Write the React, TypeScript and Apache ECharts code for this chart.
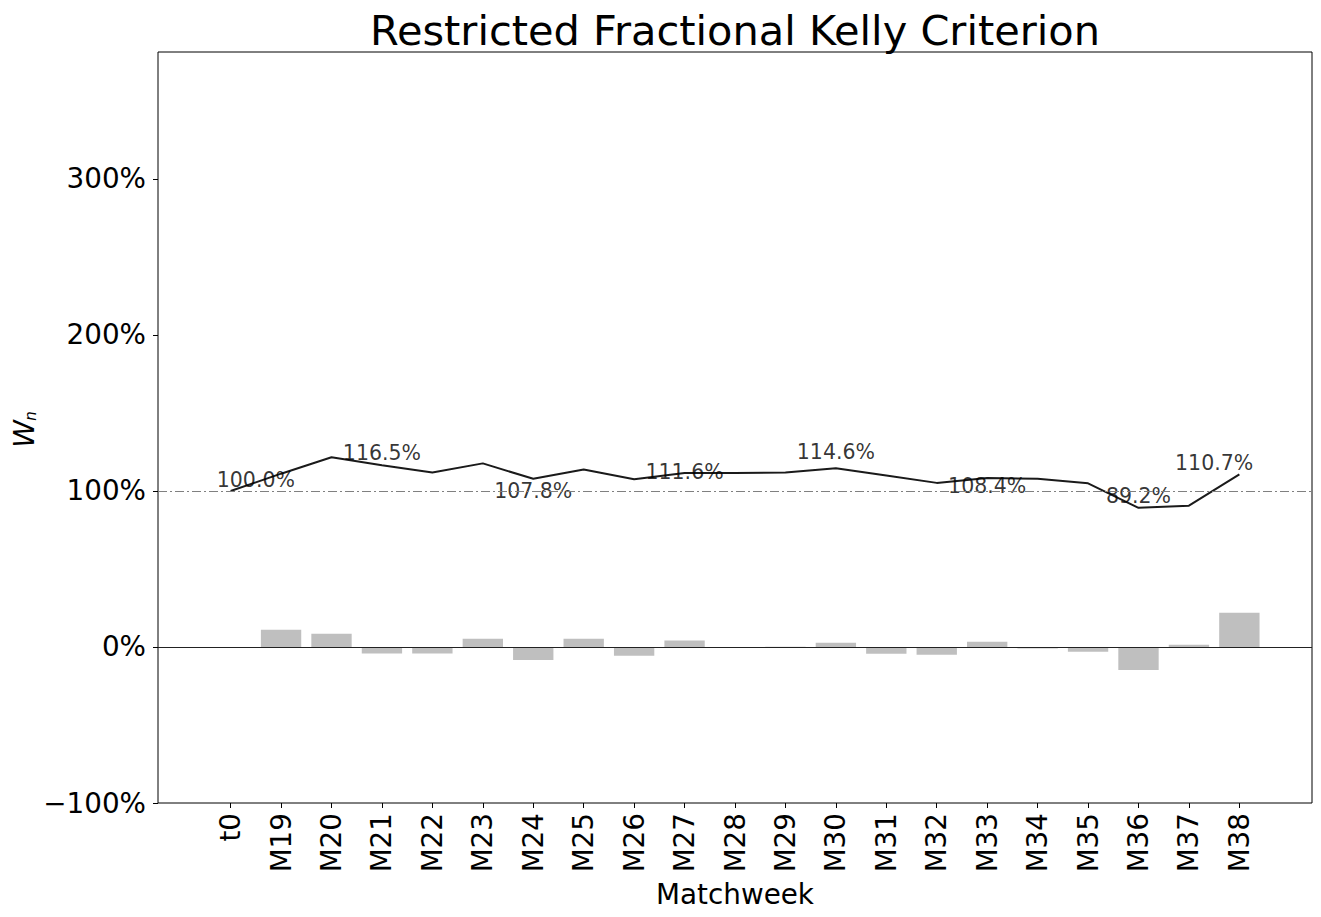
import React, { useEffect, useRef } from 'react';
import * as echarts from 'echarts';

const categories = ['t0', 'M19', 'M20', 'M21', 'M22', 'M23', 'M24', 'M25', 'M26', 'M27', 'M28', 'M29', 'M30', 'M31', 'M32', 'M33', 'M34', 'M35', 'M36', 'M37', 'M38'];
// wealth W_n in % of initial bankroll
const wealth = [100.0, 111.1, 121.6, 116.5, 111.9, 117.7, 107.8, 113.8, 107.5, 111.6, 111.5, 111.8, 114.6, 110.0, 105.2, 108.4, 107.8, 104.9, 89.2, 90.6, 110.7];
// weekly return in % (no bar at t0)
const weeklyReturn = [null, 11.1, 8.5, -4.1, -4.1, 5.3, -8.4, 5.3, -5.6, 4.1, -0.3, 0.2, 2.8, -4.3, -4.9, 3.4, -0.9, -3.0, -14.7, 1.5, 22.0];
const yTicks = [-100, 0, 100, 200, 300];
// annotations (x index, y position in %, text)
const annoX = [0.5, 3, 6, 9, 12, 15, 18, 19.5];
const annoY = [107.1, 124.2, 100.0, 112.4, 124.8, 103.4, 96.8, 118.1];
const annoText = ['100.0%', '116.5%', '107.8%', '111.6%', '114.6%', '108.4%', '89.2%', '110.7%'];

const FONT = '"DejaVu Sans", sans-serif';

export default function App() {
  const ref = useRef<HTMLDivElement>(null);
  useEffect(() => {
    const chart = echarts.init(ref.current as HTMLDivElement, null, { renderer: 'svg' });
    const gridLeft = 158;
    const gridRight = 9;
    const gridTop = 52;
    const gridBottom = 114;
    const xMin = -1.44;
    const xMax = categories.length - 1 + 1.44;
    const plotW = 1321 - gridLeft - gridRight;
    const barW = (plotW / (xMax - xMin)) * 0.8;
    const xIdx = categories.map((_, i) => i);

    const option: any = {
      animation: false,
      textStyle: { fontFamily: FONT },
      grid: {
        left: gridLeft, right: gridRight, top: gridTop, bottom: gridBottom,
        show: true, borderColor: '#000', borderWidth: 1, backgroundColor: 'transparent',
      },
      graphic: [
        {
          type: 'text', x: 735, y: 30,
          style: { text: 'Restricted Fractional Kelly Criterion', fontSize: 41.5, fontFamily: FONT, fill: '#000', textAlign: 'center', textVerticalAlign: 'middle' },
        },
        {
          type: 'text', x: 24, y: 434, rotation: Math.PI / 2,
          style: { text: 'W', fontSize: 28, fontStyle: 'italic', fontFamily: FONT, fill: '#000', textAlign: 'center', textVerticalAlign: 'middle' },
        },
        {
          type: 'text', x: 31, y: 416, rotation: Math.PI / 2,
          style: { text: 'n', fontSize: 15, fontStyle: 'italic', fontFamily: FONT, fill: '#000', textAlign: 'center', textVerticalAlign: 'middle' },
        },
      ],
      xAxis: {
        type: 'value', min: xMin, max: xMax,
        name: 'Matchweek', nameLocation: 'middle', nameGap: 71,
        nameTextStyle: { fontSize: 27.8, color: '#000', fontFamily: FONT },
        splitLine: { show: false },
        axisLine: { show: false, onZero: false },
        axisTick: { show: true, length: 5, lineStyle: { color: '#000', width: 1 }, customValues: xIdx },
        axisLabel: {
          rotate: 90, margin: 10, fontSize: 27.8, color: '#000', fontFamily: FONT,
          customValues: xIdx,
          formatter: (v: number) => categories[Math.round(v)] ?? '',
        },
      },
      yAxis: {
        type: 'value', min: -100, max: 381.4,
        splitLine: { show: false },
        axisLine: { show: false, onZero: false },
        axisTick: { show: true, length: 5, lineStyle: { color: '#000', width: 1 }, customValues: yTicks },
        axisLabel: {
          margin: 12, fontSize: 27.8, color: '#000', fontFamily: FONT,
          customValues: yTicks,
          formatter: (v: number) => `${v < 0 ? '\u2212' : ''}${Math.abs(v)}%`,
        },
      },
      series: [
        {
          type: 'bar',
          barWidth: barW,
          itemStyle: { color: '#bfbfbf' },
          data: weeklyReturn.map((v, i) => [i, v]).filter((d) => d[1] !== null),
          z: 2,
          markLine: {
            silent: true, symbol: 'none', label: { show: false },
            data: [
              { yAxis: 0, lineStyle: { color: '#222', width: 1, type: 'solid' } },
              { yAxis: 100, lineStyle: { color: '#808080', width: 1, type: [9, 3, 2, 3] } },
            ],
          },
        },
        {
          type: 'line',
          symbol: 'none',
          lineStyle: { color: '#1a1a1a', width: 2 },
          data: wealth.map((v, i) => [i, v]),
          z: 3,
        },
        {
          type: 'scatter',
          symbolSize: 0,
          silent: true,
          data: annoX.map((x, i) => [x, annoY[i], annoText[i]]),
          label: {
            show: true, position: 'inside', fontSize: 20.5, color: '#000', fontFamily: FONT,
            formatter: (p: any) => p.data[2],
          },
          z: 4,
        },
      ],
    };
    chart.setOption(option);
    return () => chart.dispose();
  }, []);
  return <div ref={ref} style={{ position: 'absolute', left: 0, top: 0, width: 1321, height: 917 }} />;
}
